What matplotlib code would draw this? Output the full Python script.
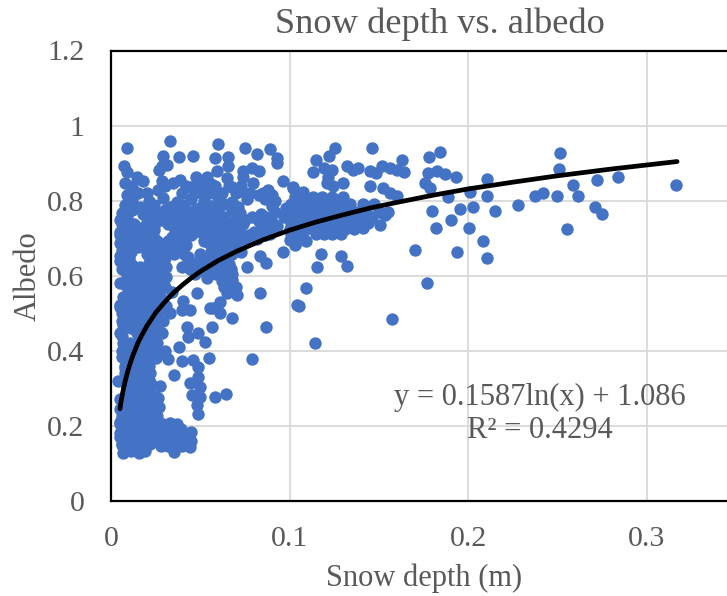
import numpy as np
import matplotlib
matplotlib.use('Agg')
import matplotlib.pyplot as plt

plt.rcParams['font.family'] = ['Liberation Serif', 'DejaVu Serif']

# values, region by region
top_x = [.0087,.033,.0599,.0289,.0382,.0457,.058,.0657,.0657,.0752,.0815,.089,.0927,.0927,.0072,.0087,.0283,.0311,.027,
         .074,.0787,.083,.0595,.0475,.0535,.0386,.0349,.0283,.0143,.0181,.0078,.074,.0797,.0965,.1017,.088,.0265,.0153,.0087,
         .065,.056,.045,.068,.052,.072,.083,.090]
top_y = [.941,.958,.950,.919,.916,.919,.913,.917,.893,.940,.924,.937,.913,.901,.891,.875,.891,.895,.882,
         .878,.886,.880,.880,.862,.864,.855,.846,.851,.864,.853,.846,.864,.846,.851,.835,.829,.829,.820,.815,
         .860,.845,.835,.835,.825,.825,.815,.815]

dense_x = [.012,.021,.029,.037,.045,.052,.060,.068,.076,.086,.092,
           .008,.016,.024,.033,.041,.049,.056,.063,.071,.090,.098,
           .006,.018,.026,.035,.043,.051,.058,.072,.084,.092,.102,
           .005,.020,.028,.036,.044,.052,.059,.067,.075,.083,.090,
           .009,.016,.024,.038,.046,.054,.062,.069,.085,.093,
           .005,.012,.020,.040,.047,.055,.063,.072,.080,.089,
           .008,.015,.024,.034,.041,.057,.064,.074,.082,
           .005,.012,.020,.028,.036,.042,.055,.061,.070,
           .006,.011,.025,.032,.038,.056,.064,.073,
           .005,.010,.024,.030,.043,.054,.061,
           .007,.012,.021,.027,.046,.052,.058,.066,
           .006,.013,.020,.028,.044,.050,.060,.067,
           .009,.016,.024,.031,.065]
dense_y = [.803,.798,.806,.797,.804,.799,.806,.797,.803,.805,.798,
           .787,.783,.789,.782,.788,.781,.786,.790,.783,.786,.781,
           .767,.763,.768,.761,.769,.764,.762,.768,.763,.769,.765,
           .747,.743,.749,.742,.748,.744,.749,.743,.747,.745,.742,
           .732,.728,.733,.727,.731,.729,.734,.728,.730,.732,
           .717,.713,.718,.712,.716,.711,.717,.713,.716,.712,
           .702,.698,.700,.703,.697,.701,.699,.702,.698,
           .687,.683,.688,.682,.686,.681,.687,.684,.682,
           .667,.663,.669,.662,.666,.664,.668,.663,
           .652,.648,.651,.647,.650,.653,.648,
           .632,.628,.633,.627,.631,.634,.629,.632,
           .617,.613,.616,.612,.618,.615,.613,.617,
           .602,.598,.603,.597,.600]

fill_x = [.012,.020,.040,.047,.055,.062,.070,.078,.085,
          .012,.030,.042,.050,.058,.066,.073,
          .012,.022,.030,.039,.047,.054,.060,.068,
          .009,.024,.032,.040,.048,.056,.063,.071,.079,.087,.097,
          .006,.013,.032,.042,.050,.058,.066,.074,.088,
          .009,.016,.024,.036,.044,.051,.059,.067,.084,.092,
          .005,.018,.037,.045,.052,.060,.068,.077,.086,
          .010,.018,.026,.032,.039,.052,.058,.067,.076,
          .008,.015,.022,.030,.035,.041,.058,.067,
          .008,.020,.027,.035,.041,.050,.058,.068,
          .005,.010,.023,.029,.043,.049,.056,.063,
          .009,.016,.024,.031,.040,.048,.055,.063,
          .011,.020,.028,.047,.059,.068,
          .011,.018,.026,.062,.067,
          .009,.015,.023,.030,.063,.070]
fill_y = [.82,.82,.82,.82,.82,.82,.82,.82,.82,
          .84,.84,.84,.84,.84,.84,.84,
          .775,.775,.775,.775,.775,.775,.775,.775,
          .755,.755,.755,.755,.755,.755,.755,.755,.755,.755,.755,
          .738,.738,.738,.738,.738,.738,.738,.738,.738,
          .722,.722,.722,.722,.722,.722,.722,.722,.722,.722,
          .708,.708,.708,.708,.708,.708,.708,.708,.708,
          .692,.692,.692,.692,.692,.692,.692,.692,.692,
          .675,.675,.675,.675,.675,.675,.675,.675,
          .658,.658,.658,.658,.658,.658,.658,.658,
          .64,.64,.64,.64,.64,.64,.64,.64,
          .622,.622,.622,.622,.622,.622,.622,.622,
          .605,.605,.605,.605,.605,.605,
          .585,.585,.585,.585,.585,
          .57,.57,.57,.57,.57,.57]

below_x = [.076,.087,.0834,.0965,.0675,.0535,.0255,.0218,.005,.048,.0834,.104,.0703,.065,.061,.057,.0405,.034,.0162,
           .0069,.005,.0106,.0143,.0274,.0869,.0787,.0677,.0554,.061,.0423,.0433,.0489,.0563,.0528,.0378,.0548,.0395,.046,
           .0489,.035,.0489,.0442,.0498,.0274,.0265,.027,.0582,.0644,.0451,.0498,.0479,.0489]
below_y = [.624,.633,.651,.664,.589,.593,.602,.575,.58,.553,.553,.522,.549,.553,.53,.513,.531,.557,.526,
           .544,.522,.562,.588,.518,.462,.379,.486,.513,.500,.464,.437,.446,.462,.424,.409,.381,.373,.375,
           .357,.334,.331,.313,.304,.307,.273,.249,.276,.285,.282,.277,.255,.231]

left_x = [.0041,.005,.0069,.005,.0069,.0059,.0078,.0153,.0097,.005,.0162,.0143,.0255,.0237,.0283,.0181,.0237,.0283,.0321,
          .0218,.0143,.0106,.0125,.0181,.0218,.0143,.0097,.0106,.0181,.0218,.0143,.0097,.0181,.0218,.0274,.033,.0395,.0442,
          .016,.021,.026,.011,.017,.022,.028,.012,.021,.025,.031,.006,.011,.016,.021,.026,.006,.010,.021,.025,.029,
          .011,.016,.021,.006,.018,.023,.014,.022,.026,.006,.010,.014,.019,.030,.009,.018,.025,.008,.016,.021,
          .008,.012,.015,.022,.012,.018,.009,.013,.017,.021,.008,.014,.024,.007,.012,.016,.022,.006,.010,.014,.018,.022]
left_y = [.319,.270,.469,.446,.42,.384,.353,.518,.513,.517,.482,.446,.464,.437,.446,.42,.402,.393,.377,
          .375,.384,.42,.357,.34,.317,.313,.322,.286,.286,.277,.26,.251,.251,.25,.509,.5,.509,.509,
          .56,.56,.56,.54,.54,.54,.54,.52,.52,.52,.52,.50,.50,.50,.50,.50,.48,.48,.48,.48,.48,
          .46,.46,.46,.44,.44,.44,.42,.42,.42,.40,.40,.40,.40,.40,.38,.38,.38,.36,.36,.36,
          .34,.34,.34,.34,.32,.32,.30,.30,.30,.30,.28,.28,.28,.26,.26,.26,.26,.24,.24,.24,.24,.24]

bottom_x = [.029,.033,.037,.027,.031,.035,.039,.026,.030,.034,.038,.042,.045,.025,.029,.033,.037,.041,.045,
            .028,.032,.036,.040,.044,.035,
            .005,.005,.0059,.0069,.0158,.006,.010,.014,.018,.022,.026,.005,.009,.013,.017,.021,.025,
            .006,.010,.014,.018,.022,.005,.009,.013,.017,.021,.006,.010,.014,.018,.022,.007,.011,.015,.019,
            .005,.008,.012,.016,.020]
bottom_y = [.205,.206,.205,.19,.19,.19,.19,.175,.175,.175,.175,.175,.184,.16,.16,.16,.16,.16,.16,
            .145,.145,.145,.145,.144,.131,
            .211,.18,.149,.126,.127,.225,.225,.225,.225,.225,.225,.205,.205,.205,.205,.205,.205,
            .19,.19,.19,.19,.19,.17,.17,.17,.17,.17,.15,.15,.15,.15,.15,.133,.133,.133,.133,
            .245,.245,.245,.245,.245]

mid_x = [.103,.108,.113,.118,.124,.130,.101,.106,.111,.116,.122,.128,.134,.141,.147,
         .100,.104,.109,.114,.120,.126,.131,.137,.143,.150,.155,.102,.107,.112,.118,.123,.129,.134,.140,.146,
         .101,.106,.111,.116,.122,.127,.133,.139,.144,.100,.104,.109,.114,.120,.125,.131,.136,
         .101,.107,.115,.119,.124,.129,.100,.105,.109,.103]
mid_y = [.81,.81,.81,.81,.81,.81,.79,.79,.79,.79,.79,.79,.79,.79,.79,
         .77,.77,.77,.77,.77,.77,.77,.77,.77,.77,.77,.755,.755,.755,.755,.755,.755,.755,.755,.755,
         .74,.74,.74,.74,.74,.74,.74,.74,.74,.725,.725,.725,.725,.725,.725,.725,.725,
         .71,.71,.71,.71,.71,.71,.695,.695,.691,.682]

right_x = [.1254,.1461,.1222,.1148,.1319,.1385,.1353,.1133,.119,.1235,.145,.1484,.1515,.1562,.1603,.164,.1627,.1782,.1842,
           .1777,.1823,.187,.193,.1758,.1786,.2103,.201,.1888,.2107,.1797,.1954,.2029,.1905,.1818,.2004,.2084,.1935,.1702,
           .2107,.1769,.1575,.1142,.1054,.1092,.1151,.1174,.1286,.1323,.1506,.1534,.1413,.145,.1301,.1525,.1562,.1603,
           .1217,.1207,.1245,.1077,.1021,.2516,.2506,.2841,.2719,.2587,.3165,.2613,.2499,.2417,.2376,.2277,.271,.2749,.2553,.215]
right_y = [.941,.940,.919,.907,.893,.886,.882,.875,.886,.882,.880,.873,.893,.886,.882,.877,.907,.917,.930,
           .873,.880,.870,.862,.846,.833,.857,.824,.809,.811,.771,.777,.782,.747,.726,.726,.691,.662,.669,
           .646,.580,.484,.421,.518,.568,.624,.658,.653,.626,.735,.762,.726,.838,.847,.833,.820,.813,
           .864,.847,.838,.824,.833,.927,.885,.863,.854,.842,.841,.811,.811,.820,.812,.789,.784,.763,.724,.771]

snow_depth = top_x + dense_x + fill_x + below_x + left_x + bottom_x + mid_x + right_x
albedo = top_y + dense_y + fill_y + below_y + left_y + bottom_y + mid_y + right_y

trend_x = [.005,.0055,.006,.007,.008,.009,.01,.012,.015,.017,.02,.025,.03,.035,.04,.045,.05,.06,.07,.085,.1,.115,.13,.145,.16,.18,.2,.225,.25,.28,.317]
trend_y = [.245,.260,.274,.299,.320,.338,.355,.384,.420,.439,.465,.501,.529,.554,.575,.594,.611,.640,.664,.695,.721,.743,.762,.780,.795,.814,.831,.849,.866,.884,.904]

gray = '#595959'

fig = plt.figure(figsize=(7.27, 5.96), dpi=100)
ax = fig.add_axes([111/727, 1-500.7/596, 625/727, 450.2/596])
ax.set_xlim(0, 0.35)
ax.set_ylim(0, 1.2)
ax.set_xticks([0, 0.1, 0.2, 0.3])
ax.set_xticklabels(['0', '0.1', '0.2', '0.3'])
ax.set_yticks([0, 0.2, 0.4, 0.6, 0.8, 1.0, 1.2])
ax.set_yticklabels(['0', '0.2', '0.4', '0.6', '0.8', '1', '1.2'])
ax.tick_params(length=0, labelsize=21.5, labelcolor=gray)
ax.tick_params(axis='x', pad=18)
ax.tick_params(axis='y', pad=19)
ax.grid(color='#D9D9D9', lw=1.3)
ax.set_axisbelow(True)
for s in ['left', 'bottom', 'top']:
    ax.spines[s].set_color('black')
    ax.spines[s].set_linewidth(1.6)
ax.spines['right'].set_visible(False)

ax.scatter(snow_depth, albedo, s=80, color='#4472C4', linewidths=0, zorder=3)
ax.plot(trend_x, trend_y, color='black', lw=3.4, solid_capstyle='round', zorder=4)

ax.set_xlabel('Snow depth (m)', fontsize=22, color=gray, va='center')
ax.xaxis.set_label_coords(424/727, 1-578/596, transform=fig.transFigure)
ax.set_ylabel('Albedo', fontsize=22, color=gray, va='center')
ax.yaxis.set_label_coords(28/727, 1-276/596, transform=fig.transFigure)
fig.text(440/727, 1-24/596, 'Snow depth vs. albedo', fontsize=26.2, color=gray, ha='center', va='center')
fig.text(539.5/727, 1-397/596, 'y = 0.1587ln(x) + 1.086', fontsize=22, color=gray, ha='center', va='center')
fig.text(539.5/727, 1-431/596, 'R² = 0.4294', fontsize=22, color=gray, ha='center', va='center')

fig.savefig('out.png', dpi=100)
